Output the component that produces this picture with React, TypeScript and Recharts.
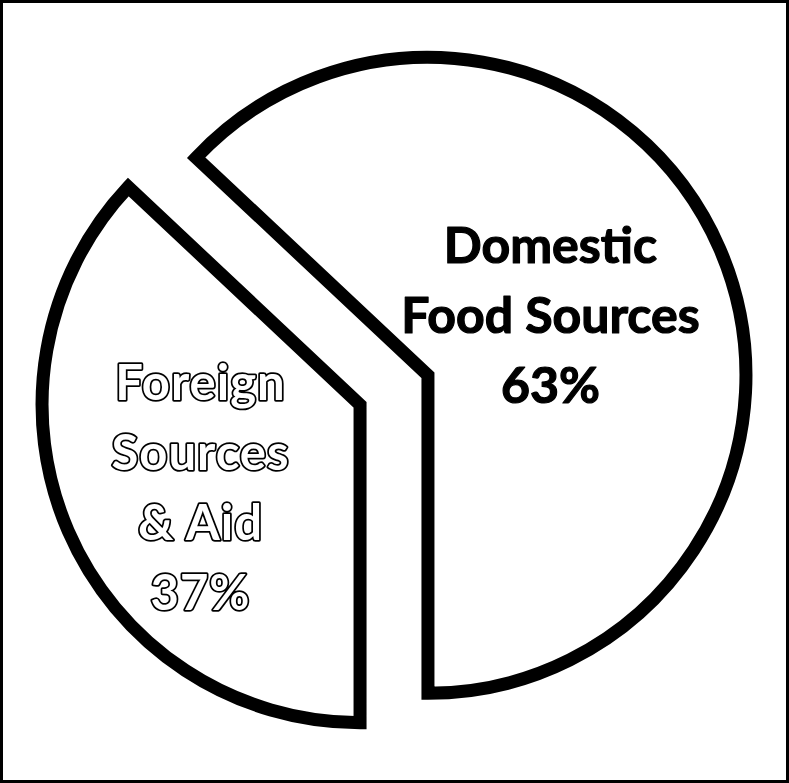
import { PieChart, Pie, Cell } from 'recharts';

const sliceNames = ['Domestic Food Sources', 'Foreign Sources & Aid'];
const sliceShares = [63, 37];
const labelLines = [
  ['Domestic', 'Food Sources', '63%'],
  ['Foreign', 'Sources', '& Aid', '37%'],
];

const data = sliceNames.map((name, i) => ({ name, value: sliceShares[i] }));

const W = 789;
const H = 783;
const CENTER = { x: 389, y: 385 };
const RADIUS = 318;
const EXPLODE = 37;
const START = -90;
const END = 270;
const RAD = Math.PI / 180;

// label placement: fraction of radius and a small angle nudge per slice
const labelFactor = [0.43, 0.565];
const labelNudge = [3, 4];
const LINE_H = 70;

const total = sliceShares.reduce((a, b) => a + b, 0);
const midAngles = sliceShares.map((v, i) => {
  const before = sliceShares.slice(0, i).reduce((a, b) => a + b, 0);
  return START + ((before + v / 2) / total) * (END - START);
});

const makeLabel = (visible: number) => (props: any) => {
  const { index, cx, cy, midAngle, outerRadius } = props;
  if (index !== visible) return null;
  const a = (midAngle + labelNudge[index]) * RAD;
  const r = outerRadius * labelFactor[index];
  const x = cx + r * Math.cos(a);
  const y = cy - r * Math.sin(a);
  const lines = labelLines[index];
  const y0 = y - ((lines.length - 1) / 2) * LINE_H + 18;
  const outlined = index === 1;
  return (
    <text
      x={x}
      y={y0}
      textAnchor="middle"
      fontFamily="Lato, 'Noto Sans', sans-serif"
      fontWeight={700}
      fontSize={outlined ? 49 : 50}
      letterSpacing={outlined ? 1 : 0}
      fill={outlined ? '#fff' : '#000'}
      stroke="#000"
      strokeWidth={outlined ? 3.5 : 1.2}
      strokeLinejoin="round"
      style={{ paintOrder: 'stroke' }}
    >
      {lines.map((t, k) => (
        <tspan key={k} x={x} y={y0 + k * LINE_H}>
          {t}
        </tspan>
      ))}
    </text>
  );
};

export default function App() {
  return (
    <div
      style={{
        position: 'fixed',
        top: 0,
        left: 0,
        width: W,
        height: H,
        background: '#fff',
      }}
    >
      <PieChart width={W} height={H}>
        {data.map((_, visible) => (
          <Pie
            key={visible}
            data={data}
            dataKey="value"
            nameKey="name"
            cx={CENTER.x + EXPLODE * Math.cos(midAngles[visible] * RAD)}
            cy={CENTER.y - EXPLODE * Math.sin(midAngles[visible] * RAD)}
            outerRadius={RADIUS}
            startAngle={START}
            endAngle={END}
            labelLine={false}
            label={makeLabel(visible)}
            isAnimationActive={false}
          >
            {data.map((d, i) => (
              <Cell
                key={d.name}
                fill={i === visible ? '#fff' : 'none'}
                stroke={i === visible ? '#000' : 'none'}
                strokeWidth={13}
              />
            ))}
          </Pie>
        ))}
      </PieChart>
      <div
        style={{
          position: 'absolute',
          inset: 0,
          border: '3px solid #000',
          pointerEvents: 'none',
        }}
      />
    </div>
  );
}
